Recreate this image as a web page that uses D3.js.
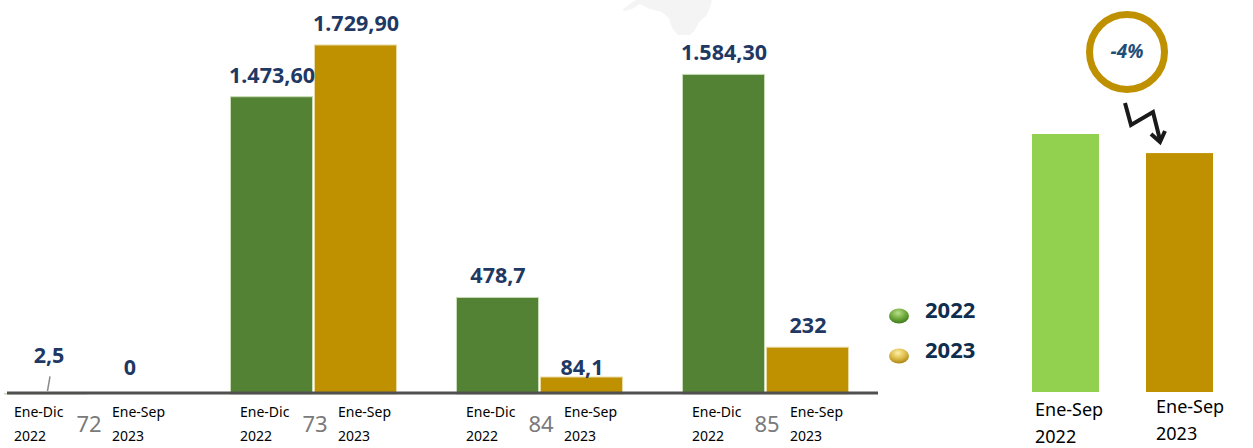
<!DOCTYPE html>
<html><head><meta charset="utf-8">
<script src="https://cdn.jsdelivr.net/npm/d3@7"></script>
<style>html,body{margin:0;padding:0;background:#fff;}svg{display:block;}</style>
</head><body>
<svg id="chart" width="1253" height="448"></svg>
<script>
// ---- data ----
const groups = ["72", "73", "84", "85"];
const years = ["2022", "2023"];
const periodLabels = [["Ene-Dic", "2022"], ["Ene-Sep", "2023"]];
const values2022 = [2.5, 1473.6, 478.7, 1584.3];
const values2023 = [0, 1729.9, 84.1, 232];
const valueLabels2022 = ["2,5", "1.473,60", "478,7", "1.584,30"];
const valueLabels2023 = ["0", "1.729,90", "84,1", "232"];
const panelCategories = ["Ene-Sep 2022", "Ene-Sep 2023"];
const panelValues = [100, 92.6]; // relative index (Ene-Sep 2022 = 100)
const changeLabel = "-4%";

// ---- styles ----
const green = "#548235", gold = "#BF9000", lightGreen = "#92D050";
const navy = "#1F3864";
const font = "'Noto Sans', 'DejaVu Sans', sans-serif";

const svg = d3.select("#chart");
const defs = svg.append("defs");

// watermark shape (faint)
svg.append("path")
  .attr("d", "M622,10 L630,4 L636,0 L712,0 L710,8 L706,16 L699,22 L695,30 L690,35 L678,35 L672,28 L669,18 L662,12 L650,9 L640,4 L632,9 L625,11 Z")
  .attr("fill", "#f4f4f4");

// ---- scales ----
const x0 = d3.scaleBand().domain(groups).range([4, 850]).paddingInner(58 / 226).paddingOuter(0).align(0);
const x1 = d3.scaleBand().domain(years).range([0, x0.bandwidth()]);
const y = d3.scaleLinear().domain([0, 1729.9]).range([394, 45]);

const rows = [];
groups.forEach((g, i) => {
  rows.push({g, year: "2022", v: values2022[i], lab: valueLabels2022[i], color: green, stroke: "#c9dcb8"});
  rows.push({g, year: "2023", v: values2023[i], lab: valueLabels2023[i], color: gold, stroke: "#ead9a0"});
});

// bars
svg.append("g").selectAll("rect").data(rows).join("rect")
  .attr("x", d => x0(d.g) + x1(d.year) + 0.5)
  .attr("width", x1.bandwidth() - 2)
  .attr("y", d => y(d.v))
  .attr("height", d => y(0) - y(d.v))
  .attr("fill", d => d.color)
  .attr("stroke", d => d.v > 0 ? d.stroke : "none")
  .attr("stroke-width", 1);

// axis line
const xAxis = d3.axisBottom(x0).tickSize(0).tickFormat("");
const axisG = svg.append("g").attr("transform", `translate(0,${y(0) - 1})`).call(xAxis);
axisG.select(".domain").remove();
axisG.append("line").attr("x1", 7).attr("x2", 878).attr("y1", 0).attr("y2", 0)
  .attr("stroke", "#505050").attr("stroke-width", 3);

// value labels (some nudged as in the original)
const nudge = {"72-2022": -16.5, "72-2023": -5, "84-2023": 12};
svg.append("g").selectAll("text").data(rows).join("text")
  .attr("x", d => x0(d.g) + x1(d.year) + x1.bandwidth() / 2 + (d.g === "72" && d.year === "2022" ? 3 : 0))
  .attr("y", d => y(d.v) - 14 + (nudge[d.g + "-" + d.year] || 0))
  .attr("text-anchor", "middle")
  .attr("font-family", font).attr("font-weight", "bold").attr("font-size", 21.5)
  .attr("fill", navy)
  .text(d => d.lab);

// leader line for 2,5
svg.append("line")
  .attr("x1", x0("72") + x1("2022") + x1.bandwidth() / 2 + 4).attr("y1", y(2.5) - 17)
  .attr("x2", x0("72") + x1("2022") + x1.bandwidth() / 2 + 1.5).attr("y2", y(0) - 3)
  .attr("stroke", "#8a8a8a").attr("stroke-width", 1.5);

// category labels
const catG = svg.append("g").attr("font-family", font);
groups.forEach(g => {
  const c = x0(g) + x0.bandwidth() / 2;
  [[c - 74, periodLabels[0]], [c + 24, periodLabels[1]]].forEach(([xx, lines]) => {
    lines.forEach((t, k) => {
      catG.append("text").attr("x", xx).attr("y", 417 + k * 24)
        .attr("font-size", 14).attr("fill", "#000").text(t);
    });
  });
  catG.append("text").attr("x", c + 1).attr("y", 432).attr("text-anchor", "middle")
    .attr("font-size", 22).attr("fill", "#7a7a7a").text(g);
});

// legend
const gradG = defs.append("radialGradient").attr("id", "gG").attr("cx", "45%").attr("cy", "30%").attr("r", "70%");
gradG.append("stop").attr("offset", "0%").attr("stop-color", "#b6e08a");
gradG.append("stop").attr("offset", "60%").attr("stop-color", "#6aa336");
gradG.append("stop").attr("offset", "100%").attr("stop-color", "#3f7a1e");
const gradY = defs.append("radialGradient").attr("id", "gY").attr("cx", "45%").attr("cy", "30%").attr("r", "70%");
gradY.append("stop").attr("offset", "0%").attr("stop-color", "#fff0a8");
gradY.append("stop").attr("offset", "60%").attr("stop-color", "#d9b640");
gradY.append("stop").attr("offset", "100%").attr("stop-color", "#a88416");
const legend = svg.append("g");
years.forEach((yr, i) => {
  legend.append("ellipse").attr("cx", 899).attr("cy", 316 + i * 40).attr("rx", 10).attr("ry", 7.5)
    .attr("fill", i === 0 ? "url(#gG)" : "url(#gY)");
  legend.append("text").attr("x", 925).attr("y", 318 + i * 40)
    .attr("font-family", font).attr("font-weight", "bold").attr("font-size", 22)
    .attr("fill", "#0F2D4E").text(yr);
});

// right panel
const px = d3.scaleBand().domain(panelCategories).range([1032, 1213]).paddingInner(47 / 114).paddingOuter(0);
const py = d3.scaleLinear().domain([0, 100]).range([392, 134]);
const panelColors = [lightGreen, gold];
svg.append("g").selectAll("rect").data(panelCategories).join("rect")
  .attr("x", d => px(d)).attr("width", px.bandwidth())
  .attr("y", (d, i) => py(panelValues[i])).attr("height", (d, i) => py(0) - py(panelValues[i]))
  .attr("fill", (d, i) => panelColors[i]);
const plG = svg.append("g").attr("font-family", font).attr("font-size", 18).attr("fill", "#000");
panelCategories.forEach((d, i) => {
  const parts = d.split(" ");
  const xx = px(d) + (i === 0 ? 3 : 10);
  const yb = i === 0 ? 416 : 413;
  parts.forEach((t, k) => plG.append("text").attr("x", xx).attr("y", yb + k * 27).text(t));
});

// change circle
svg.append("circle").attr("cx", 1127).attr("cy", 52).attr("r", 37.5)
  .attr("fill", "#fff").attr("stroke", gold).attr("stroke-width", 7);
svg.append("text").attr("x", 1127).attr("y", 58).attr("text-anchor", "middle")
  .attr("font-family", font).attr("font-weight", "bold").attr("font-style", "italic")
  .attr("font-size", 19).attr("fill", "#1F4E79").text(changeLabel);

// zigzag arrow
svg.append("path").attr("d", "M1125,103 L1131,125 L1153,112 L1160,140")
  .attr("fill", "none").attr("stroke", "#1a1a1a").attr("stroke-width", 4).attr("stroke-linejoin", "miter");
svg.append("path").attr("d", "M1151,134 L1160,142 L1165,131")
  .attr("fill", "none").attr("stroke", "#1a1a1a").attr("stroke-width", 4).attr("stroke-linejoin", "miter");
</script>
</body></html>
